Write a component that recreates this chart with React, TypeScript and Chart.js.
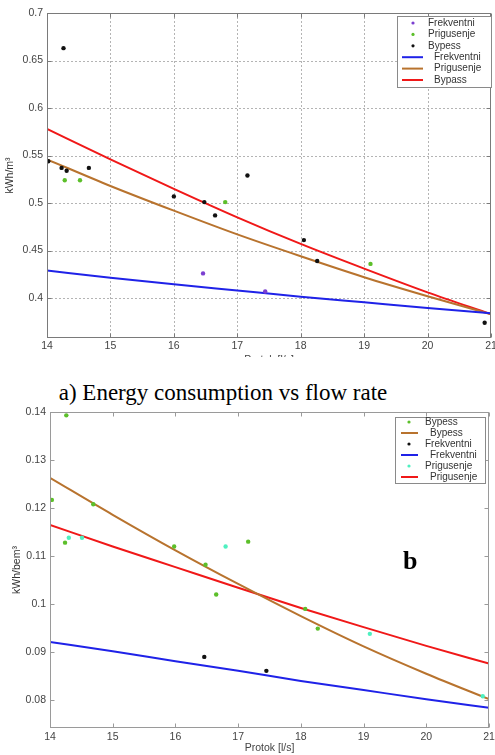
import React, { useEffect, useRef } from "react";
import { Chart, registerables } from "chart.js";
Chart.register(...registerables);

// ---------- shared ----------
const xTicks = [14, 15, 16, 17, 18, 19, 20, 21];
const fitX = [14, 15, 16, 17, 18, 19, 20, 21];

// ---------- chart a ----------
const yTicksA = [0.4, 0.45, 0.5, 0.55, 0.6, 0.65, 0.7];
const aFrekX = [16.46, 17.44];
const aFrekY = [0.426, 0.407];
const aPrigX = [14.28, 14.52, 16.81, 19.1];
const aPrigY = [0.524, 0.524, 0.501, 0.436];
const aBypX = [14.02, 14.26, 14.23, 14.31, 14.66, 16.0, 16.48, 16.65, 17.16, 18.05, 18.26, 20.9];
const aBypY = [0.544, 0.663, 0.537, 0.534, 0.537, 0.507, 0.501, 0.487, 0.529, 0.461, 0.439, 0.374];
const aFitFrek = [0.429, 0.4215, 0.4145, 0.408, 0.4015, 0.3955, 0.3895, 0.384];
const aFitPrig = [0.546, 0.518, 0.492, 0.467, 0.444, 0.422, 0.402, 0.383];
const aFitByp = [0.578, 0.546, 0.515, 0.485, 0.457, 0.431, 0.406, 0.383];

// ---------- chart b ----------
const yTicksB = [0.08, 0.09, 0.1, 0.11, 0.12, 0.13, 0.14];
const bBypX = [14.03, 14.26, 14.24, 14.69, 15.98, 16.48, 16.65, 17.16, 18.07, 18.27];
const bBypY = [0.1217, 0.1393, 0.1128, 0.1208, 0.112, 0.1082, 0.102, 0.113, 0.099, 0.0949];
const bFrekX = [16.46, 17.45];
const bFrekY = [0.089, 0.0861];
const bPrigX = [14.3, 14.51, 16.8, 19.1, 20.9];
const bPrigY = [0.1138, 0.1138, 0.112, 0.0938, 0.0808];
const bFitByp = [0.1263, 0.1186, 0.1112, 0.1042, 0.0975, 0.0912, 0.0855, 0.0802];
const bFitFrek = [0.0921, 0.0902, 0.0881, 0.0861, 0.084, 0.0821, 0.0802, 0.0784];
const bFitPrig = [0.1165, 0.112, 0.1077, 0.1034, 0.0992, 0.0952, 0.0913, 0.0876];

const C = {
  purple: "#7b3fd0",
  green: "#5cbf2a",
  black: "#111111",
  cyan: "#4ef0c0",
  blue: "#1f22e8",
  brown: "#b8732e",
  red: "#f01818",
};

const SANS = "'Liberation Sans', Arial, sans-serif";
const tickFont = { family: SANS, size: 10.5 };
const tickColor = "#444";

const pts = (xs: number[], ys: number[]) => xs.map((x, i) => ({ x, y: ys[i] }));

const pointDs = (label: string, xs: number[], ys: number[], color: string) => ({
  label,
  kind: "point",
  order: 0,
  data: pts(xs, ys),
  backgroundColor: color,
  borderColor: color,
  borderWidth: 0,
  pointRadius: 2.2,
  showLine: false,
});

const lineDs = (label: string, ys: number[], color: string) => ({
  label,
  kind: "line",
  order: 1,
  data: pts(fitX, ys),
  borderColor: color,
  backgroundColor: color,
  borderWidth: 2,
  pointRadius: 0,
  showLine: true,
  cubicInterpolationMode: "monotone",
});

const framePlugin = {
  id: "frame",
  beforeDatasetsDraw(chart: any, _args: any, opts: any) {
    if (!opts.grid) return;
    const { ctx, chartArea: a, scales } = chart;
    const { x, y } = scales;
    ctx.save();
    ctx.strokeStyle = opts.gridColor;
    ctx.lineWidth = 1;
    ctx.setLineDash([2, 2]);
    x.ticks.forEach((t: any) => {
      const px = Math.round(x.getPixelForValue(t.value)) + 0.5;
      if (px > a.left + 1 && px < a.right - 1) {
        ctx.beginPath();
        ctx.moveTo(px, a.top);
        ctx.lineTo(px, a.bottom);
        ctx.stroke();
      }
    });
    y.ticks.forEach((t: any) => {
      const py = Math.round(y.getPixelForValue(t.value)) + 0.5;
      if (py > a.top + 1 && py < a.bottom - 1) {
        ctx.beginPath();
        ctx.moveTo(a.left, py);
        ctx.lineTo(a.right, py);
        ctx.stroke();
      }
    });
    ctx.restore();
  },
  afterDatasetsDraw(chart: any, _args: any, opts: any) {
    const { ctx, chartArea: a, scales } = chart;
    const { x, y } = scales;
    const L = Math.round(a.left) + 0.5;
    const R = Math.round(a.right) - 0.5;
    const T = Math.round(a.top) + 0.5;
    const B = Math.round(a.bottom) - 0.5;
    ctx.save();
    ctx.setLineDash([]);
    ctx.strokeStyle = opts.borderColor;
    ctx.lineWidth = 1;
    ctx.strokeRect(L, T, R - L, B - T);
    const tl = 4;
    ctx.beginPath();
    x.ticks.forEach((t: any) => {
      const px = Math.round(x.getPixelForValue(t.value)) + 0.5;
      ctx.moveTo(px, B);
      ctx.lineTo(px, B - tl);
      ctx.moveTo(px, T);
      ctx.lineTo(px, T + tl);
    });
    y.ticks.forEach((t: any) => {
      const py = Math.round(y.getPixelForValue(t.value)) + 0.5;
      ctx.moveTo(L, py);
      ctx.lineTo(L + tl, py);
      ctx.moveTo(R, py);
      ctx.lineTo(R - tl, py);
    });
    ctx.stroke();
    ctx.restore();
  },
};

const boxLegendPlugin = {
  id: "boxLegend",
  afterDraw(chart: any, _args: any, o: any) {
    const { ctx } = chart;
    ctx.save();
    ctx.fillStyle = "#ffffff";
    ctx.fillRect(o.left, o.top, o.width, o.height);
    ctx.strokeStyle = "#8a8a8a";
    ctx.lineWidth = 1;
    ctx.strokeRect(o.left + 0.5, o.top + 0.5, o.width, o.height);
    ctx.font = `10px ${SANS}`;
    ctx.textBaseline = "middle";
    ctx.textAlign = "left";
    chart.data.datasets.forEach((ds: any, i: number) => {
      const yy = o.firstRow + i * o.rowH;
      if (ds.kind === "point") {
        ctx.fillStyle = ds.backgroundColor;
        ctx.beginPath();
        ctx.arc(o.symX, yy, 1.6, 0, Math.PI * 2);
        ctx.fill();
        ctx.fillStyle = "#333";
        ctx.fillText(ds.label, o.tx, yy);
      } else {
        ctx.strokeStyle = ds.borderColor;
        ctx.lineWidth = 2;
        ctx.beginPath();
        ctx.moveTo(o.lx0, yy);
        ctx.lineTo(o.lx1, yy);
        ctx.stroke();
        ctx.fillStyle = "#333";
        ctx.fillText(ds.label, o.txLine, yy);
      }
    });
    ctx.restore();
  },
};

function fmt(v: number) {
  return String(Number(v.toFixed(3)));
}

function makeConfig(p: any) {
  return {
    type: "scatter",
    data: { datasets: p.datasets },
    plugins: [framePlugin, boxLegendPlugin],
    options: {
      responsive: false,
      animation: false,
      events: [],
      layout: { padding: p.padding },
      plugins: {
        legend: { display: false },
        tooltip: { enabled: false },
        frame: p.frame,
        boxLegend: p.legend,
      },
      scales: {
        x: {
          type: "linear",
          min: 14,
          max: 21,
          grid: { display: false, drawTicks: false },
          border: { display: false },
          afterBuildTicks: (s: any) => {
            s.ticks = xTicks.map((v) => ({ value: v }));
          },
          afterFit: (s: any) => {
            s.height = p.xHeight;
            s.paddingLeft = 0;
            s.paddingRight = 0;
          },
          ticks: {
            padding: p.xTickPad,
            color: tickColor,
            font: tickFont,
            maxRotation: 0,
            autoSkip: false,
            callback: (v: any) => String(v),
          },
          title: {
            display: true,
            text: "Protok [l/s]",
            color: tickColor,
            font: tickFont,
            padding: { top: 0, bottom: p.xTitlePad },
          },
        },
        y: {
          type: "linear",
          min: p.yMin,
          max: p.yMax,
          grid: { display: false, drawTicks: false },
          border: { display: false },
          afterBuildTicks: (s: any) => {
            s.ticks = p.yTicks.map((v: number) => ({ value: v }));
          },
          afterFit: (s: any) => {
            s.width = p.yWidth;
            s.paddingTop = 0;
            s.paddingBottom = 0;
          },
          ticks: {
            padding: p.yTickPad,
            color: tickColor,
            font: tickFont,
            autoSkip: false,
            callback: (v: any) => fmt(Number(v)),
          },
          title: {
            display: true,
            text: p.yTitle,
            color: "#333",
            font: { family: SANS, size: 10.5 },
            padding: { top: p.yTitlePad, bottom: 0 },
          },
        },
      },
    },
  };
}

function ChartCanvas({ config, width, height, style }: any) {
  const ref = useRef<HTMLCanvasElement | null>(null);
  useEffect(() => {
    if (!ref.current) return;
    const chart = new Chart(ref.current, config);
    return () => chart.destroy();
  }, []);
  return <canvas ref={ref} width={width} height={height} style={{ position: "absolute", width, height, ...style }} />;
}

const configA = makeConfig({
  datasets: [
    pointDs("Frekventni", aFrekX, aFrekY, C.purple),
    pointDs("Prigusenje", aPrigX, aPrigY, C.green),
    pointDs("Bypess", aBypX, aBypY, C.black),
    lineDs("Frekventni", aFitFrek, C.blue),
    lineDs("Prigusenje", aFitPrig, C.brown),
    lineDs("Bypass", aFitByp, C.red),
  ],
  padding: { left: 0, top: 13, right: 2, bottom: 0 },
  frame: { grid: true, gridColor: "#b4b4b4", borderColor: "#7a7a7a" },
  legend: { left: 397, top: 16, width: 94, height: 71, firstRow: 23, rowH: 11.4, symX: 413, lx0: 402, lx1: 423, tx: 428, txLine: 434 },
  xHeight: 19,
  xTickPad: 2,
  xTitlePad: -9,
  yMin: 0.358,
  yMax: 0.7,
  yTicks: yTicksA,
  yWidth: 47,
  yTickPad: 4,
  yTitle: "kWh/m³",
  yTitlePad: 3.4,
});

const configB = makeConfig({
  datasets: [
    pointDs("Bypess", bBypX, bBypY, C.green),
    lineDs("Bypess", bFitByp, C.brown),
    pointDs("Frekventni", bFrekX, bFrekY, C.black),
    lineDs("Frekventni", bFitFrek, C.blue),
    pointDs("Prigusenje", bPrigX, bPrigY, C.cyan),
    lineDs("Prigusenje", bFitPrig, C.red),
  ],
  padding: { left: 0, top: 7, right: 6, bottom: 0 },
  frame: { grid: false, gridColor: "#b4b4b4", borderColor: "#9a9a9a" },
  legend: { left: 395, top: 12, width: 90, height: 66, firstRow: 17, rowH: 11, symX: 409, lx0: 401, lx1: 418, tx: 425, txLine: 430 },
  xHeight: 27,
  xTickPad: 3,
  xTitlePad: 0.4,
  yMin: 0.0742,
  yMax: 0.14,
  yTicks: yTicksB,
  yWidth: 50,
  yTickPad: 4,
  yTitle: "kWh/bem³",
  yTitlePad: 10.4,
});

export default function App() {
  return (
    <div style={{ position: "fixed", left: 0, top: 0, width: 495, height: 755, background: "#fff", overflow: "hidden" }}>
      <ChartCanvas config={configA} width={495} height={357} style={{ left: 0, top: 0 }} />
      <ChartCanvas config={configB} width={495} height={350} style={{ left: 0, top: 405 }} />
      <div
        style={{
          position: "absolute",
          left: 0,
          top: 381,
          width: 446,
          textAlign: "center",
          fontFamily: "'Liberation Serif', 'Times New Roman', serif",
          fontSize: 23,
          lineHeight: "23px",
          color: "#000",
          whiteSpace: "nowrap",
        }}
      >
        a) Energy consumption vs flow rate
      </div>
      <div
        style={{
          position: "absolute",
          left: 403,
          top: 548,
          fontFamily: "'Liberation Serif', 'Times New Roman', serif",
          fontWeight: "bold",
          fontSize: 26,
          lineHeight: "26px",
          color: "#000",
        }}
      >
        b
      </div>
    </div>
  );
}
